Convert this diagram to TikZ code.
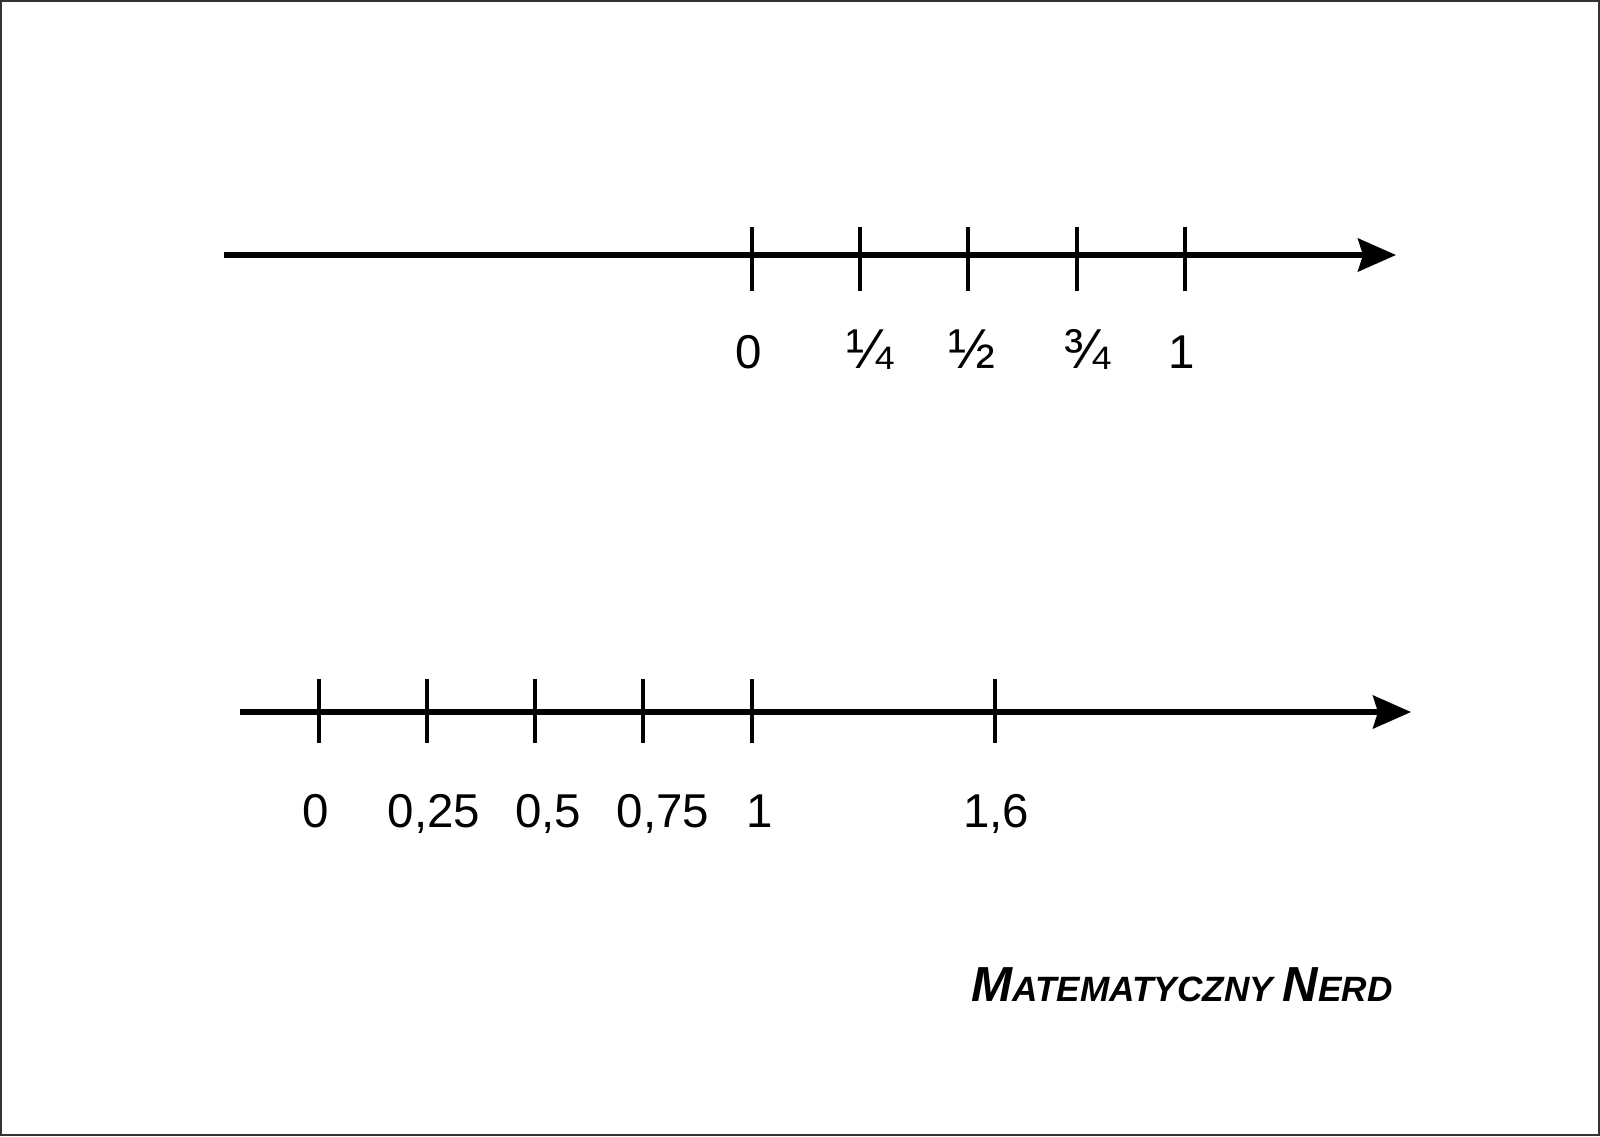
\documentclass[tikz,border=0pt]{standalone}
\usepackage{fontspec}
\setmainfont{Liberation Sans}
\usepackage{tikz}
\usetikzlibrary{arrows.meta, positioning, calc}

\begin{document}
\begin{tikzpicture}[
  x=0.01cm, y=-0.01cm,
  axis/.style={draw, line width=1.45pt, -{Stealth[length=0.38cm, width=0.33cm, inset=0.05cm]}},
  tick/.style={draw, line width=0.9pt},
  num/.style={font=\fontsize{13.5}{16}\selectfont, inner sep=0pt, anchor=base},
  frac/.style={num, font=\fontsize{16}{18}\selectfont},
  brand/.style={font=\bfseries\itshape, inner sep=0pt}
]
  \useasboundingbox (0,0) rectangle (1600,1136);
  \draw[line width=0.45pt, black!80] (1,1) rectangle (1599,1135);

  % Top axis
  \coordinate (ta) at (224,255);
  \coordinate (tb) at (1396,255);
  \draw[axis] (ta) -- (tb);
  \coordinate (t0) at (752,255);
  \coordinate (t1) at (860,255);
  \coordinate (t2) at (968,255);
  \coordinate (t3) at (1077,255);
  \coordinate (t4) at (1185,255);
  \draw[tick] ($(t0)+(0,-28)$) -- ($(t0)+(0,36)$);
  \draw[tick] ($(t1)+(0,-28)$) -- ($(t1)+(0,36)$);
  \draw[tick] ($(t2)+(0,-28)$) -- ($(t2)+(0,36)$);
  \draw[tick] ($(t3)+(0,-28)$) -- ($(t3)+(0,36)$);
  \draw[tick] ($(t4)+(0,-28)$) -- ($(t4)+(0,36)$);

  \node[num] (lt0) at (749,368) {0};
  \node[frac] (lt1) at (870,368) {¼};
  \node[frac] (lt2) at (972,368) {½};
  \node[frac] (lt3) at (1087,368) {¾};
  \node[num] (lt4) at (1182,368) {1};

  % Bottom axis
  \coordinate (ba) at (240,712);
  \coordinate (bb) at (1411,712);
  \draw[axis] (ba) -- (bb);
  \coordinate (b0) at (319,712);
  \coordinate (b1) at (427,712);
  \coordinate (b2) at (535,712);
  \coordinate (b3) at (643,712);
  \coordinate (b4) at (752,712);
  \coordinate (b5) at (995,712);
  \draw[tick] ($(b0)+(0,-33)$) -- ($(b0)+(0,31)$);
  \draw[tick] ($(b1)+(0,-33)$) -- ($(b1)+(0,31)$);
  \draw[tick] ($(b2)+(0,-33)$) -- ($(b2)+(0,31)$);
  \draw[tick] ($(b3)+(0,-33)$) -- ($(b3)+(0,31)$);
  \draw[tick] ($(b4)+(0,-33)$) -- ($(b4)+(0,31)$);
  \draw[tick] ($(b5)+(0,-33)$) -- ($(b5)+(0,31)$);

  \node[num] (lb0) at (316,827) {0};
  \node[num] (lb1) at (434,827) {0,25};
  \node[num] (lb2) at (548,827) {0,5};
  \node[num] (lb3) at (663,827) {0,75};
  \node[num] (lb4) at (760,827) {1};
  \node[num] (lb5) at (996,827) {1,6};

  % Signature
  \node[brand] (sig) at (1182,985) {{\fontsize{14}{16}\selectfont M}{\fontsize{10}{12}\selectfont ATEMATYCZNY} {\fontsize{14}{16}\selectfont N}{\fontsize{10}{12}\selectfont ERD}};
\end{tikzpicture}
\end{document}
